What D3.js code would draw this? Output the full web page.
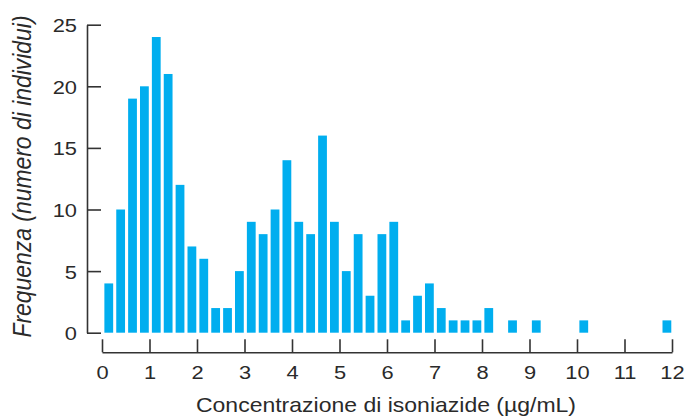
<!DOCTYPE html>
<html>
<head>
<meta charset="utf-8">
<script src="https://cdn.jsdelivr.net/npm/d3@7"></script>
<style>
  html, body { margin: 0; padding: 0; background: #fff; }
  svg { display: block; }
  text { font-family: "Liberation Sans", Arial, Helvetica, sans-serif; fill: #2a2a2a; }
</style>
</head>
<body>
<svg id="chart" width="686" height="417"></svg>
<script>
// Isoniazid plasma concentration histogram: bins of 0.25 µg/mL from 0 to 12
const binWidth = 0.25;
const binStarts = d3.range(0, 12, binWidth);
const counts = [
  4, 10, 19, 20, 24, 21, 12, 7,
  6, 2, 2, 5, 9, 8, 10, 14,
  9, 8, 16, 9, 5, 8, 3, 8,
  9, 1, 3, 4, 2, 1, 1, 1,
  2, 0, 1, 0, 1, 0, 0, 0,
  1, 0, 0, 0, 0, 0, 0, 1
];
const xTicks = d3.range(0, 13, 1);
const yTicks = [0, 5, 10, 15, 20, 25];
const xTitle = "Concentrazione di isoniazide (µg/mL)";
const yTitle = "Frequenza (numero di individui)";

const bins = binStarts.map((s, i) => ({ start: s, count: counts[i] })).filter(d => d.count > 0);

const svg = d3.select("#chart");
const axisColor = "#333";
const barColor = "#00aeef";
const stretch = 1.15; // typeface is set slightly wide

const x = d3.scaleLinear().domain([0, 12]).range([102, 672]);
const y = d3.scaleLinear().domain([0, 25]).range([332.7, 24.7]);

// bars
svg.append("g")
  .selectAll("rect")
  .data(bins)
  .join("rect")
  .attr("x", d => x(d.start + binWidth * 0.2))
  .attr("width", d => x(d.start + binWidth * 0.94) - x(d.start + binWidth * 0.2))
  .attr("y", d => y(d.count))
  .attr("height", d => y(0) - y(d.count))
  .attr("fill", barColor);

// y axis (ticks pointing into the plot)
const yAxis = svg.append("g")
  .attr("transform", "translate(87,0)")
  .call(d3.axisLeft(y).tickValues(yTicks).tickSize(-14).tickSizeOuter(0).tickPadding(0));
yAxis.select(".domain").attr("stroke", axisColor).attr("stroke-width", 1.6);
yAxis.selectAll(".tick line").attr("stroke", axisColor).attr("stroke-width", 1.6);
yAxis.selectAll(".tick text")
  .attr("x", 0)
  .attr("transform", `translate(-10,1) scale(${stretch},1)`)
  .style("font-size", "19px")
  .attr("fill", "#2a2a2a");

// x axis (separate baseline below the bars, ticks pointing up)
const xAxis = svg.append("g")
  .attr("transform", "translate(0,352.3)")
  .call(d3.axisBottom(x).tickValues(xTicks).tickSize(-13).tickSizeOuter(0).tickPadding(13));
xAxis.select(".domain").attr("stroke", axisColor).attr("stroke-width", 1.6);
xAxis.selectAll(".tick line").attr("stroke", axisColor).attr("stroke-width", 1.6);
xAxis.selectAll(".tick text")
  .attr("transform", `scale(${stretch},1)`)
  .style("font-size", "19px")
  .attr("fill", "#2a2a2a");

// axis titles
svg.append("text")
  .attr("transform", `translate(386,412) scale(${stretch},1)`)
  .attr("text-anchor", "middle")
  .style("font-size", "20px")
  .text(xTitle);

svg.append("text")
  .attr("transform", `translate(31,176.5) scale(${stretch},1) rotate(-90)`)
  .attr("text-anchor", "middle")
  .style("font-size", "22px")
  .style("font-style", "italic")
  .attr("textLength", 322)
  .attr("lengthAdjust", "spacingAndGlyphs")
  .text(yTitle);
</script>
</body>
</html>
